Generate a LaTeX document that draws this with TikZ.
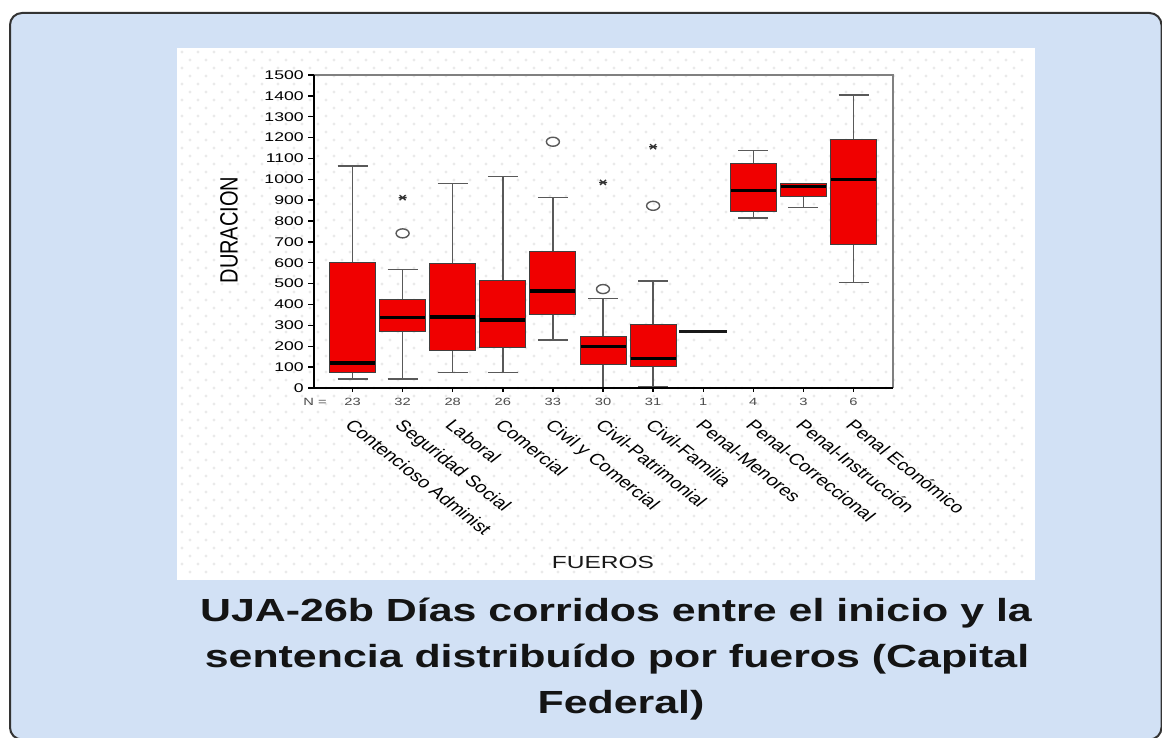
\documentclass[tikz,border=0pt]{standalone}
\usepackage{fontspec}
\setmainfont{Liberation Sans}
\definecolor{bgblue}{RGB}{210,225,245}
\definecolor{boxred}{RGB}{240,0,0}
\definecolor{dotc}{RGB}{234,234,234}
\newcommand\drawbox[6]{%
  \pgfmathsetmacro\cx{352.5+50.1*(#1-1)}%
  \pgfmathsetmacro\ya{388-0.2087*#2}%
  \pgfmathsetmacro\yb{388-0.2087*#3}%
  \pgfmathsetmacro\yc{388-0.2087*#4}%
  \pgfmathsetmacro\yd{388-0.2087*#5}%
  \pgfmathsetmacro\ye{388-0.2087*#6}%
  \draw[whisk] (\cx,\ya) -- (\cx,\yb);
  \draw[whisk] (\cx-15,\ya) -- (\cx+15,\ya);
  \draw[whisk] (\cx,\yd) -- (\cx,\ye);
  \draw[whisk] (\cx-15,\ye) -- (\cx+15,\ye);
  \filldraw[boxst] (\cx-23,\yb) rectangle (\cx+23,\yd);
  \draw[medst] (\cx-22.5,\yc) -- (\cx+22.5,\yc);
}
\newcommand\outcirc[2]{%
  \pgfmathsetmacro\cx{352.5+50.1*(#1-1)}%
  \pgfmathsetmacro\yv{388-0.2087*#2}%
  \draw[outl] (\cx,\yv) ellipse (6.5 and 4.5);
}
\newcommand\outstar[2]{%
  \pgfmathsetmacro\cx{352.5+50.1*(#1-1)}%
  \pgfmathsetmacro\yv{388-0.2087*#2}%
  \draw[starst] (\cx-4,\yv) -- (\cx+4,\yv) (\cx-3,\yv-2.5) -- (\cx+3,\yv+2.5) (\cx-3,\yv+2.5) -- (\cx+3,\yv-2.5);
}
\begin{document}
\begin{tikzpicture}[x=1pt,y=-1pt,
  boxst/.style={fill=boxred, draw=black!75, line width=0.9pt},
  medst/.style={draw=black, line width=3.6pt},
  whisk/.style={draw=black!65, line width=1.5pt},
  outl/.style={draw=black!65, line width=1.4pt},
  starst/.style={draw=black!80, line width=1.3pt},
  ticklab/.style={font=\fontsize{12.6}{13}\selectfont, xscale=1.4, inner sep=0pt, anchor=east, text=black},
  nlab/.style={font=\fontsize{10.5}{11}\selectfont, xscale=1.4, inner sep=0pt, text=black!70},
  catl/.style={font=\fontsize{16}{16}\selectfont, xscale=1.27, rotate=-45, inner sep=0pt, anchor=north west, text=black},
  axtitle/.style={font=\fontsize{17.5}{18}\selectfont, xscale=1.4, inner sep=0pt, text=black!90},
  titlest/.style={font=\fontsize{32}{32}\selectfont\bfseries, xscale=1.34, inner sep=0pt, anchor=base, text=black!92}
]
\useasboundingbox (0,0) rectangle (1162,738);
\fill[white] (0,0) rectangle (1162,738);
\draw[fill=bgblue, draw=black!80, line width=2pt, rounded corners=12pt] (10,13) rectangle (1161.5,739.5);
% white panel with dots
\fill[white] (177,48) rectangle (1035,580);
\foreach \r in {0,...,65} {
  \foreach \c in {0,...,52} {
    \fill[dotc] ({182+16*\c+8*mod(\r,2)},{52+8*\r}) circle (1.7);
  }
}
% frame
\draw[black!50, line width=1.2pt] (314,75) -- (893,75) -- (893,388);
% y ticks and labels
\foreach \v in {0,100,...,1500} {
  \pgfmathsetmacro\yy{388-0.2087*\v}
  \draw[black, line width=1.4pt] (308,\yy) -- (314,\yy);
  \node[ticklab] (yl\v) at (304,\yy) {\v};
}
% boxes
\drawbox{1}{42}{73}{121}{602}{1064}
\drawbox{2}{42}{270}{337}{422}{569}
\drawbox{3}{75}{179}{339}{597}{981}
\drawbox{4}{75}{195}{326}{517}{1013}
\drawbox{5}{230}{354}{466}{656}{914}
\drawbox{6}{0}{115}{198}{249}{430}
\drawbox{7}{8}{105}{142}{305}{513}
\drawbox{9}{814}{848}{947}{1078}{1139}
\drawbox{10}{865}{918}{966}{978}{978}
\drawbox{11}{505}{688}{1000}{1191}{1404}
\pgfmathsetmacro\cxe{352.5+50.1*7}
\pgfmathsetmacro\yme{388-0.2087*271}
\draw[draw=black!90, line width=3pt] (\cxe-24,\yme) -- (\cxe+24,\yme);
% outliers
\outcirc{2}{741}
\outstar{2}{912}
\outcirc{5}{1180}
\outcirc{6}{474}
\outstar{6}{985}
\outcirc{7}{873}
\outstar{7}{1156}
% axes
\draw[black, line width=1.8pt] (314,75) -- (314,388) -- (893,388);
% x ticks, N and category labels
\node[nlab] (nlabel) at (315,402) {N =};
\foreach \i/\lab/\n in {1/Contencioso Administ/23, 2/Seguridad Social/32, 3/Laboral/28, 4/Comercial/26, 5/Civil y Comercial/33, 6/Civil-Patrimonial/30, 7/Civil-Familia/31, 8/Penal-Menores/1, 9/Penal-Correccional/4, 10/Penal-Instrucción/3, 11/Penal Económico/6} {
  \pgfmathsetmacro\cx{352.5+50.1*(\i-1)}
  \draw[black, line width=1.4pt] (\cx,388) -- (\cx,392);
  \node[nlab] (n\i) at (\cx,402) {\n};
  \node[catl] (cat\i) at (\cx+2,418) {\lab};
}
\node[axtitle] (xtitle) at (603,562) {FUEROS};
\node[font=\fontsize{20}{20}\selectfont, xscale=1.25, rotate=90, inner sep=0pt, text=black] (ytitle) at (229,230) {DURACION};
% title
\node[titlest] (t1) at (616,621) {UJA-26b Días corridos entre el inicio y la};
\node[titlest] (t2) at (617,667) {sentencia distribuído por fueros (Capital};
\node[titlest] (t3) at (621,713) {Federal)};
\end{tikzpicture}
\end{document}
